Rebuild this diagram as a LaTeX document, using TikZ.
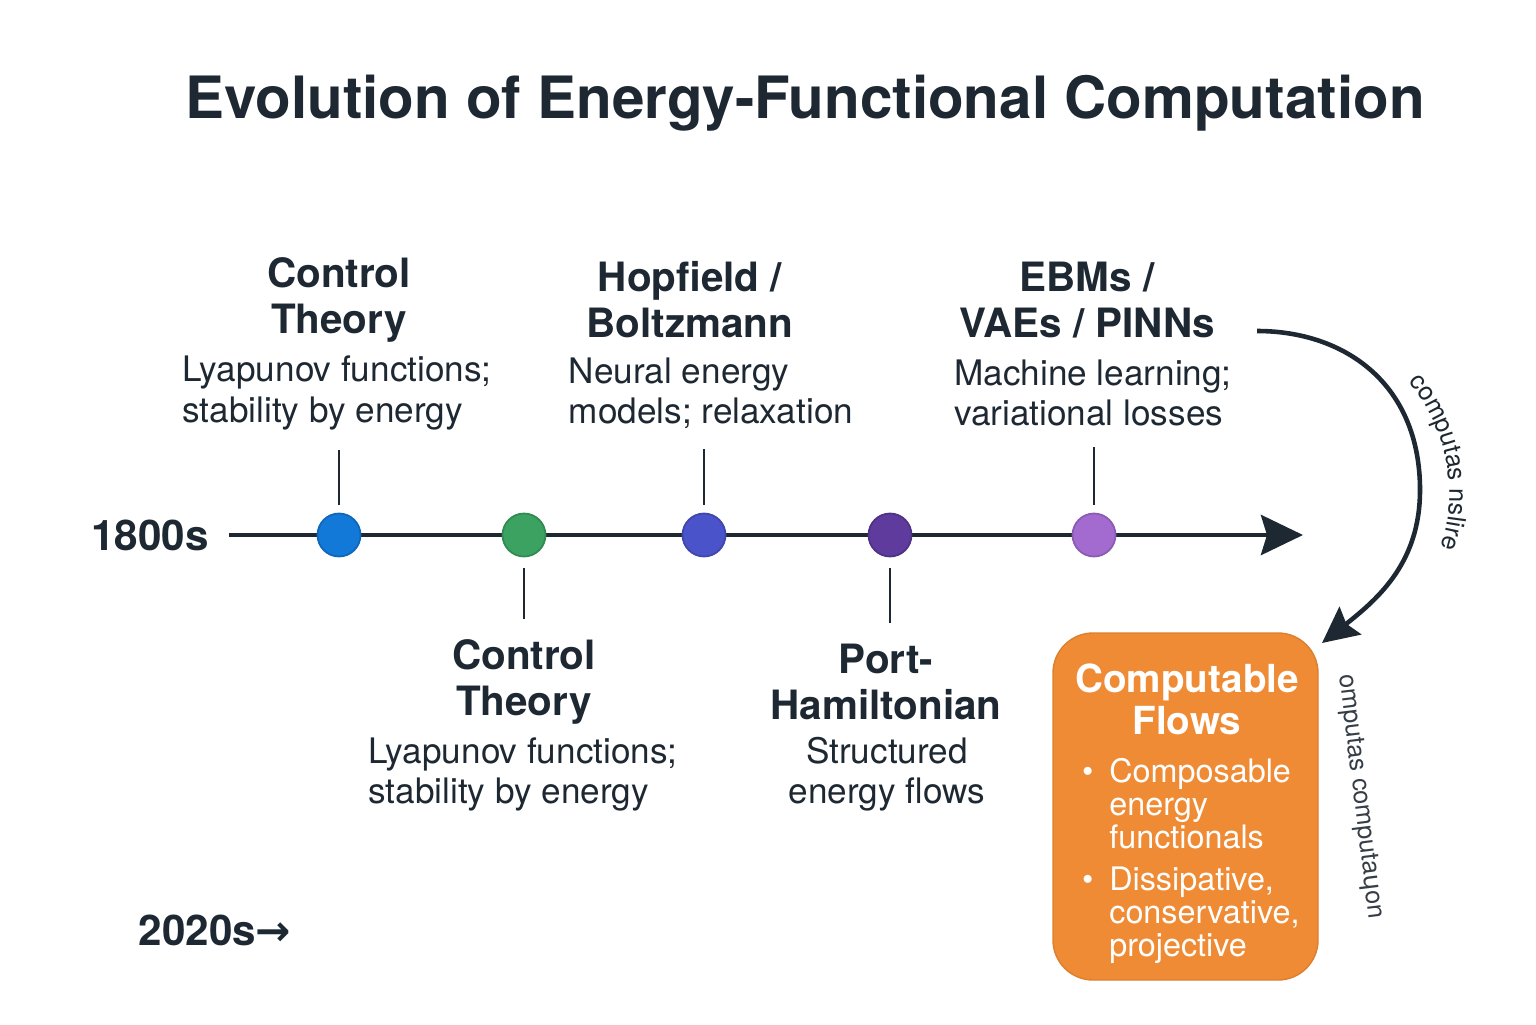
\documentclass[tikz,border=0pt]{standalone}
\usepackage{fontspec}
\setmainfont{TeX Gyre Heros}
\newfontfamily\dejavu{DejaVu Sans}
\usetikzlibrary{positioning,arrows.meta,decorations.text}
\definecolor{colInk}{HTML}{1E2832}
\definecolor{dotBlue}{HTML}{1279D8}
\definecolor{dotGreen}{HTML}{3BA262}
\definecolor{dotIndigo}{HTML}{4A53C9}
\definecolor{dotPurple}{HTML}{5E3B9D}
\definecolor{dotLilac}{HTML}{A36BD0}
\definecolor{colFlow}{HTML}{EF8B34}

\begin{document}
\begin{tikzpicture}[
        milestone/.style={circle, inner sep=0pt, minimum size=0.43cm, line width=0.5pt},
        heading/.style={align=center, inner sep=0pt, text=colInk, font=\fontsize{11.5}{13.1}\selectfont\bfseries},
        caption/.style={align=left, inner sep=0pt, text=colInk, font=\fontsize{10}{11.4}\selectfont},
        era/.style={inner sep=0pt, text=colInk, font=\fontsize{12}{14}\selectfont\bfseries},
        tickLine/.style={line width=0.7pt, draw=colInk},
        axisArrow/.style={-{Stealth[length=4.2mm, width=4mm, inset=0.6mm]}, line width=1.4pt, draw=colInk},
        bendArrow/.style={-{Stealth[length=3.6mm, width=3.5mm, inset=0.5mm]}, line width=1.3pt, draw=colInk},
        flowBox/.style={rectangle, rounded corners=0.4cm, fill=colFlow, draw=colFlow!92!black, line width=0.4pt, minimum width=2.65cm, minimum height=3.47cm},
        sideNote/.style={inner sep=0pt, text=colInk!90, font=\fontsize{7.2}{8}\selectfont}
    ]
        \useasboundingbox (0,0) rectangle (15.36,10.24);

        % Title
        \node[text=colInk, font=\fontsize{16.6}{19}\selectfont\bfseries] (title) at (8.05, 9.21) {Evolution of Energy-Functional Computation};

        % Axis
        \node[era] (start) at (1.50, 4.89) {1800s};
        \coordinate (axisEnd) at (13.03, 4.89);
        \draw[axisArrow] ([xshift=0.2cm]start.east) -- (axisEnd);

        \node[milestone, fill=dotBlue, draw=dotBlue!85!black] (dot1) at (3.39, 4.89) {};
        \node[milestone, fill=dotGreen, draw=dotGreen!85!black] (dot2) at (5.24, 4.89) {};
        \node[milestone, fill=dotIndigo, draw=dotIndigo!85!black] (dot3) at (7.04, 4.89) {};
        \node[milestone, fill=dotPurple, draw=dotPurple!85!black] (dot4) at (8.90, 4.89) {};
        \node[milestone, fill=dotLilac, draw=dotLilac!85!black] (dot5) at (10.94, 4.89) {};

        % Labels above the axis
        \node[heading] (head1) at (3.39, 7.24) {Control\\Theory};
        \node[caption] (desc1) at (3.37, 6.31) {Lyapunov functions;\\stability by energy};
        \node[heading] (head3) at (6.90, 7.24) {Hopfield /\\Boltzmann};
        \node[caption] (desc3) at (7.11, 6.31) {Neural energy\\models; relaxation};
        \node[heading] (head5) at (10.87, 7.24) {EBMs /\\VAEs / PINNs};
        \node[caption] (desc5) at (10.93, 6.31) {Machine learning;\\variational losses};

        \draw[tickLine, shorten <=0.08cm, shorten >=0.2cm] (dot1.north) -- (dot1.north |- desc1.south);
        \draw[tickLine, shorten <=0.08cm, shorten >=0.2cm] (dot3.north) -- (dot3.north |- desc3.south);
        \draw[tickLine, shorten <=0.08cm, shorten >=0.2cm] (dot5.north) -- (dot5.north |- desc5.south);

        % Labels below the axis
        \node[heading] (head2) at (5.24, 3.42) {Control\\Theory};
        \node[caption] (desc2) at (5.23, 2.50) {Lyapunov functions;\\stability by energy};
        \node[heading] (head4) at (8.86, 3.42) {Port-\\Hamiltonian};
        \node[caption, align=center] (desc4) at (8.87, 2.50) {Structured\\energy flows};

        \draw[tickLine, shorten <=0.11cm, shorten >=0.2cm] (dot2.south) -- (dot2.south |- head2.north);
        \draw[tickLine, shorten <=0.11cm, shorten >=0.2cm] (dot4.south) -- (dot4.south |- head4.north);

        \node[era] (finish) at (2.15, 0.94) {2020s{\dejavu →}};

        % Computable flows
        \node[flowBox] (flows) at (11.855, 2.175) {};
        \node[inner sep=0pt, text=white, align=center, font=\fontsize{11}{12}\selectfont\bfseries] (flowsTitle) at (11.87, 3.25) {Computable\\Flows};
        \node[inner sep=0pt, text=white, anchor=north west, font=\fontsize{9.2}{9.4}\selectfont] (flowItems) at ([xshift=0.29cm, yshift=-1.25cm]flows.north west) {%
            \begin{tabular}{@{}l@{\hspace{0.16cm}}l@{}}
            \textbullet & Composable\\
             & energy\\
             & functionals\\[0.08cm]
            \textbullet & Dissipative,\\
             & conservative,\\
             & projective
            \end{tabular}};

        \coordinate (bendStart) at (12.57, 6.93);
        \coordinate (bendMid) at (14.20, 5.34);
        \coordinate (bendEnd) at (13.22, 3.81);
        \draw[bendArrow] (bendStart) .. controls (13.45, 6.93) and (14.20, 6.40) .. (bendMid)
            .. controls (14.20, 4.62) and (13.79, 4.26) .. (bendEnd);

        \path[decorate, decoration={text along path, text align=center, text color=colInk,
            text={|\fontsize{7.2}{8}\selectfont|computas nslire}}]
            (14.00, 6.52) arc[start angle=44, end angle=-22, radius=1.76];
        \node[sideNote, rotate=-83] (sideLabel) at (13.60, 2.27) {omputas computa{\dejavu ɥ}on};
    \end{tikzpicture}
\end{document}
